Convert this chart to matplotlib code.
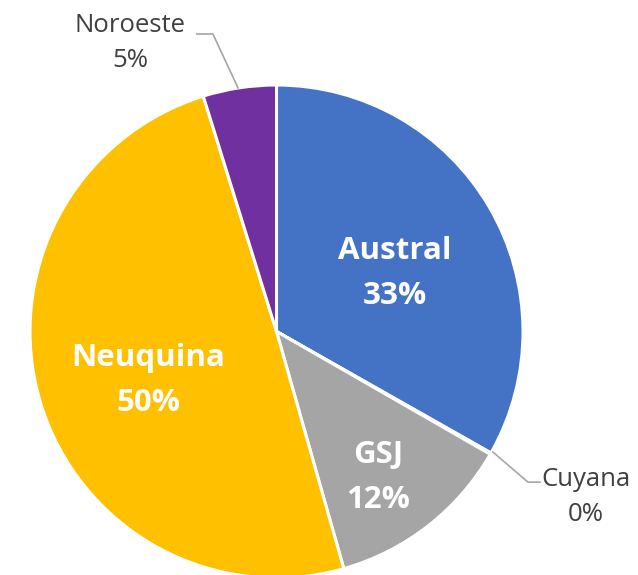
import numpy as np
import matplotlib.pyplot as plt

regions = ['Austral', 'Cuyana', 'GSJ', 'Neuquina', 'Noroeste']
shares = [33.2, 0.1, 12.3, 49.6, 4.8]
colors = ['#4472C4', '#ED7D31', '#A5A5A5', '#FFC000', '#7030A0']

fig = plt.figure(figsize=(6.38, 5.75), dpi=100)
# pie spans x 30..523 px, y 85..578 px from top
ax = fig.add_axes([30 / 638, (575 - 578) / 575, 493 / 638, 493 / 575])

wedges, _ = ax.pie(shares, colors=colors, startangle=90, counterclock=False,
                   radius=1.0, wedgeprops=dict(edgecolor='white', linewidth=2.2))
for w in wedges:
    w.set_clip_on(False)
ax.set_xlim(-1, 1)
ax.set_ylim(-1, 1)
ax.axis('off')

total = sum(shares)
font = 'Open Sans'

# inside labels (bold white): radius, angle offset from wedge middle
inside = {'Austral': (0.536, -4.0), 'GSJ': (0.72, -3.1), 'Neuquina': (0.558, 4.5)}
outside = {'Cuyana': ((0.878, -0.489), (1.02, -0.611), (1.069, -0.611), (1.255, -0.671)),
           'Noroeste': ((-0.156, 0.988), (-0.258, 1.207), (-0.323, 1.207), (-0.594, 1.170))}

for w, name, val in zip(wedges, regions, shares):
    pct = '{:.0f}%'.format(val / total * 100)
    if name in inside:
        r, off = inside[name]
        mid = np.deg2rad((w.theta1 + w.theta2) / 2 + off)
        ax.text(r * np.cos(mid), r * np.sin(mid), name + '\n' + pct,
                ha='center', va='center', color='white', fontsize=22.5,
                fontweight='bold', family=font, linespacing=1.65)
    else:
        p0, p1, p2, pt = outside[name]
        ax.plot([p0[0], p1[0], p2[0]], [p0[1], p1[1], p2[1]], color='#A6A6A6',
                lw=1.2, clip_on=False)
        ax.text(pt[0], pt[1], name + '\n' + pct, ha='center', va='center',
                color='#404040', fontsize=18.5, family=font, linespacing=1.55)

fig.savefig('out.png', dpi=100)
